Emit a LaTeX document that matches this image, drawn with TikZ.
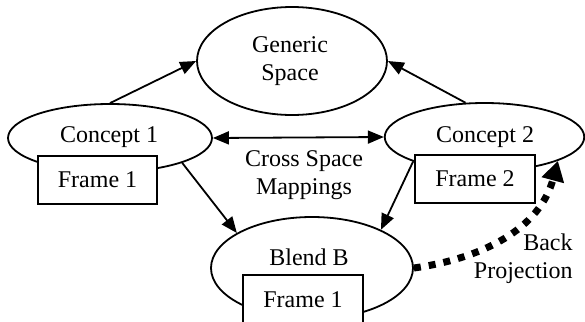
\documentclass[tikz,border=0pt]{standalone}
\usepackage{fontspec}
\setmainfont{Liberation Serif}
\usetikzlibrary{shapes.geometric,arrows.meta}
\begin{document}
\begin{tikzpicture}[x=0.5pt,y=-0.5pt,
  every node/.style={font=\fontsize{12}{14}\selectfont},
  oval/.style={draw,ellipse,line width=0.9pt,inner sep=0pt,fill=white},
  framebox/.style={draw,rectangle,line width=0.9pt,fill=white,inner sep=0pt},
  txt/.style={inner sep=0pt,align=center},
  tip/.style={Triangle[length=8pt,width=6.5pt]},
  link/.style={line width=0.9pt,-{Triangle[length=8pt,width=6.5pt]}},
  backproj/.style={line width=3.5pt,dash pattern=on 3.5pt off 4pt,-{Triangle[length=10pt,width=11pt]}}]
\useasboundingbox (0,0) rectangle (585,322);
\begin{scope}
\clip (0,0) rectangle (585,322);
% ellipses
\node[oval,minimum width=95pt,minimum height=54pt] (gen) at (292,61) {};
\node[oval,minimum width=102pt,minimum height=34pt] (c1) at (110,138) {};
\node[oval,minimum width=99.75pt,minimum height=34pt] (c2) at (484.5,137) {};
\node[oval,minimum width=101pt,minimum height=51pt] (blend) at (312,268) {};
% texts in ellipses
\node[txt] (gentext) at (290,61) {Generic\\Space};
\node[txt] (c1text) at (109,137) {Concept 1};
\node[txt] (c2text) at (485,137) {Concept 2};
\node[txt] (blendtext) at (309,257) {Blend B};
% connectors
\draw[link] (c1.north) -- (gen.west);
\draw[link] (c2.119) -- (gen.east);
\draw[line width=0.9pt,{Triangle[length=8pt,width=6.5pt]}-{Triangle[length=8pt,width=6.5pt]}] (c1.east) -- (c2.west);
\draw[link] (c1.-19) -- (blend.155);
\draw[link] (c2.199) -- (blend.29);
% frames
\node[framebox,minimum width=59.5pt,minimum height=24pt] (f1) at (97.5,180) {};
\node[framebox,minimum width=60pt,minimum height=24pt] (f2) at (475,179) {};
\node[framebox,minimum width=60pt,minimum height=26pt] (f1b) at (303,301) {};
\node[txt] (f1text) at (97.5,180) {Frame 1};
\node[txt] (f2text) at (475,179) {Frame 2};
\node[txt] (f1btext) at (303,300) {Frame 1};
% back projection
\draw[backproj] (blend.east) to[out=8,in=-105] (c2.-18);
% labels
\node[txt] (cross) at (304,175) {Cross Space\\Mappings};
\node[txt,align=right,anchor=east] (back) at (573,259) {Back\\Projection};
\end{scope}
\end{tikzpicture}
\end{document}
